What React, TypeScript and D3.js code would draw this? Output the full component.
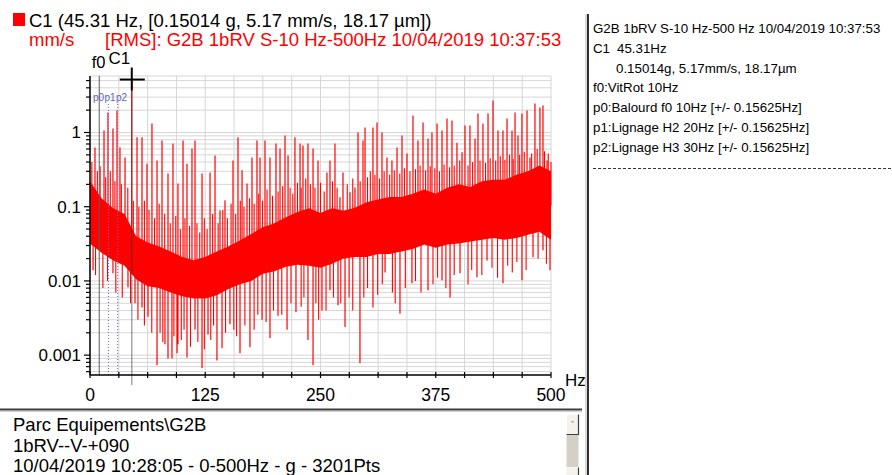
import React from 'react';
import * as d3 from 'd3';

const FONT = '"Liberation Sans", Arial, sans-serif';
const RED = '#ff0000';

// dense part of the spectrum (envelope), mm/s
const BAND_HZ = [
  0, 12.5, 25, 37.5, 50, 62.5, 75, 87.5, 100, 112.5, 125, 137.5, 150, 162.5, 175, 187.5, 200,
  212.5, 225, 237.5, 250, 262.5, 275, 287.5, 300, 312.5, 325, 337.5, 350, 362.5, 375, 387.5, 400,
  412.5, 425, 437.5, 450, 462.5, 475, 487.5, 500,
];
const BAND_TOP = [
  0.22, 0.13, 0.095, 0.08, 0.04, 0.033, 0.029, 0.025, 0.021, 0.019, 0.021, 0.025, 0.029, 0.035, 0.043,
  0.053, 0.06, 0.072, 0.085, 0.095, 0.082, 0.095, 0.088, 0.097, 0.115, 0.125, 0.135, 0.135, 0.15, 0.17,
  0.15, 0.18, 0.2, 0.185, 0.22, 0.23, 0.23, 0.27, 0.3, 0.36, 0.3,
];
const BAND_BOTTOM = [
  0.032, 0.024, 0.019, 0.016, 0.0105, 0.0085, 0.008, 0.007, 0.0062, 0.0058, 0.0058, 0.0064, 0.0078,
  0.009, 0.01, 0.0125, 0.0135, 0.0155, 0.0165, 0.016, 0.015, 0.017, 0.02, 0.021, 0.021, 0.023, 0.023,
  0.025, 0.027, 0.031, 0.028, 0.031, 0.032, 0.034, 0.036, 0.038, 0.036, 0.038, 0.042, 0.046, 0.036,
];

// tall lines rising above the band [Hz, mm/s]
const PEAKS: [number, number][] = [
  [5.4, 0.63], [15.2, 1.06], [19.5, 1.86], [24.9, 1.13], [29.3, 1.98], [32.5, 0.63], [38, 0.46],
  [45.31, 5.17], [51, 0.86], [56.4, 0.86], [61.8, 0.38], [67.2, 1.32], [72.7, 0.42], [78.1, 0.78],
  [84.6, 0.28], [90, 0.71], [95.4, 0.206], [100.9, 0.78], [105.2, 0.38], [110.6, 0.61],
  [113.9, 0.78], [121.5, 0.28], [130.2, 0.29], [135.6, 0.49], [141, 0.089], [146.4, 0.122],
  [155.1, 0.42], [160.5, 0.86], [164.9, 0.31], [170.3, 0.206], [175.7, 0.46], [181.1, 0.78],
  [184.4, 0.46], [189.8, 0.78], [195.2, 0.46], [201.7, 0.71], [206.1, 0.61], [211.5, 0.91],
  [214.8, 0.49], [222.3, 0.86], [227.8, 0.71], [231, 0.67], [236.4, 0.71], [241.9, 0.61],
  [247.3, 0.42], [257, 0.29], [260.3, 0.42], [265.7, 0.71], [271.1, 0.134], [274.4, 0.29],
  [282, 0.156], [287.4, 0.182], [290.7, 1.0], [296.1, 0.78], [298.3, 1.17], [306.9, 1.17],
  [311.3, 1.36], [316.7, 1.0], [322.1, 0.46], [327.5, 0.42], [333, 0.63], [338.4, 0.91],
  [343.8, 0.52], [350.3, 1.69], [355.7, 0.78], [361.2, 1.36], [366.6, 0.83], [370.9, 1.0],
  [376.4, 1.32], [381.8, 1.06], [387.2, 1.54], [392.6, 1.45], [398, 0.73], [403.5, 0.54],
  [406.7, 1.24], [412.1, 1.24], [417.6, 0.83], [420.8, 1.8], [426.2, 1.32], [431.7, 1.8],
  [437.1, 2.7], [442.5, 1.06], [447.9, 1.06], [452.3, 1.54], [457.7, 1.06], [461, 1.86],
  [464.2, 0.91], [468.5, 1.8], [474, 1.98], [477.2, 0.46], [482.6, 2.46], [488, 2.17],
  [491.3, 2.31], [495.7, 0.42], [498.9, 0.182],
];

// shorter lines just above the band
const MID_PEAKS: [number, number][] = [
  [2, 0.4], [8, 0.3], [11, 0.35], [17, 0.25], [22, 0.3], [27, 0.22], [34, 0.2], [41, 0.18],
  [47, 0.12], [53, 0.1], [59, 0.12], [64, 0.09], [70, 0.07], [75, 0.11], [81, 0.08], [87, 0.06],
  [93, 0.075], [98, 0.05], [103, 0.07], [108, 0.055], [116, 0.06], [119, 0.045], [124, 0.07],
  [127, 0.05], [133, 0.08], [139, 0.06], [144, 0.09], [149, 0.07], [153, 0.11], [158, 0.08],
  [163, 0.12], [167, 0.1], [173, 0.13], [178, 0.11], [183, 0.15], [187, 0.12], [192, 0.17],
  [198, 0.14], [204, 0.16], [209, 0.19], [217, 0.18], [220, 0.15], [225, 0.21], [229, 0.18],
  [234, 0.24], [239, 0.2], [244, 0.18], [250, 0.21], [254, 0.16], [263, 0.22], [268, 0.18],
  [279, 0.2], [285, 0.24], [293, 0.22], [301, 0.25], [304, 0.3], [309, 0.27], [314, 0.24],
  [319, 0.3], [325, 0.27], [330, 0.31], [336, 0.28], [341, 0.33], [347, 0.3], [353, 0.32],
  [358, 0.36], [364, 0.31], [369, 0.35], [374, 0.33], [379, 0.3], [384, 0.37], [390, 0.34],
  [395, 0.36], [401, 0.42], [410, 0.36], [415, 0.4], [423, 0.42], [429, 0.39], [434, 0.45],
  [440, 0.42], [445, 0.48], [450, 0.43], [455, 0.5], [459, 0.44], [466, 0.5], [471, 0.55],
  [479, 0.52], [485, 0.6], [493, 0.56], [497, 0.52], [500, 0.4],
];

// lines dropping below the band
const DIPS: [number, number][] = [
  [3.3, 0.0139], [24.9, 0.0127], [41.2, 0.0082], [48.8, 0.005], [56.4, 0.0044], [62.9, 0.0033],
  [72.7, 0.00073], [81.3, 0.0014], [84.6, 0.0009], [88.9, 0.0009], [94.4, 0.00106],
  [95.4, 0.0014], [105.2, 0.00093], [113.9, 0.0022], [121.5, 0.00067], [128, 0.0019],
  [137.7, 0.00085], [143.2, 0.00124], [151.8, 0.0026], [162.7, 0.00106], [173.5, 0.00128],
  [186.6, 0.003], [195.2, 0.0017], [203.9, 0.0034], [213.7, 0.0022], [223.4, 0.0038],
  [236.4, 0.0016], [241.9, 0.00073], [251.6, 0.004], [260.3, 0.0075], [269, 0.0047],
  [276.6, 0.0024], [292.8, 0.00078], [306.9, 0.0044], [320, 0.013], [336.2, 0.0036],
  [349.2, 0.0093], [366.6, 0.0075], [381.8, 0.0102], [390.5, 0.006], [401.3, 0.0127],
  [419.7, 0.0112], [430.6, 0.0189], [447.9, 0.0093], [468.5, 0.0102], [480.5, 0.0208],
  [491.3, 0.026], [498.9, 0.0139],
];

// shorter lines just below the band
const MID_DIPS: [number, number][] = [
  [6, 0.012], [14, 0.008], [19, 0.01], [28, 0.007], [35, 0.006], [44, 0.005], [52, 0.003],
  [59, 0.0025], [67, 0.002], [76, 0.002], [79, 0.0015], [91, 0.0018], [99, 0.0016], [102, 0.0022],
  [109, 0.0013], [117, 0.0015], [124, 0.0012], [131, 0.0016], [134, 0.0025], [147, 0.002],
  [156, 0.0022], [159, 0.0018], [168, 0.0025], [178, 0.0022], [182, 0.0035], [191, 0.0028],
  [199, 0.004], [208, 0.0035], [218, 0.005], [229, 0.0045], [232, 0.006], [245, 0.005],
  [248, 0.003], [256, 0.004], [264, 0.006], [272, 0.005], [281, 0.006], [285, 0.004],
  [297, 0.006], [301, 0.008], [312, 0.0065], [317, 0.009], [328, 0.007], [331, 0.005],
  [342, 0.008], [353, 0.01], [359, 0.007], [372, 0.009], [377, 0.011], [386, 0.008],
  [395, 0.012], [410, 0.009], [414, 0.014], [425, 0.012], [436, 0.015], [442, 0.011],
  [453, 0.016], [458, 0.013], [463, 0.018], [473, 0.014], [486, 0.02], [495, 0.017],
];

const Y_LABELS = [1, 0.1, 0.01, 0.001];
const X_LABELS = [0, 125, 250, 375, 500];

const F0_HZ = 10;
const MARKERS = [
  { name: 'p0', hz: 10, dx: -6.2 },
  { name: 'p1', hz: 20, dx: -3.9 },
  { name: 'p2', hz: 30, dx: -1.7 },
];
const CURSOR = { hz: 45.31, value: 5.17 };

const INFO_LINES = [
  'G2B 1bRV S-10 Hz-500 Hz 10/04/2019 10:37:53',
  'C1',
  '0.15014g, 5.17mm/s, 18.17µm',
  'f0:VitRot 10Hz',
  'p0:Balourd f0 10Hz [+/- 0.15625Hz]',
  'p1:Lignage H2 20Hz [+/- 0.15625Hz]',
  'p2:Lignage H3 30Hz [+/- 0.15625Hz]',
];
const FOOTER_LINES = [
  'Parc Equipements\\G2B',
  '1bRV--V-+090',
  '10/04/2019 10:28:05 - 0-500Hz - g - 3201Pts',
];

export default function App() {
  const W = 892;
  const H = 475;
  const left = 90, right = 551, top = 76, bottom = 375;

  const x = d3.scaleLinear().domain([0, 500]).range([left, right]);
  const y = d3.scaleLog().domain([0.00054, 5.77]).range([bottom, top]);

  const band = d3
    .area<number>()
    .x((_, i) => x(BAND_HZ[i]))
    .y0((_, i) => y(BAND_BOTTOM[i]))
    .y1((_, i) => y(BAND_TOP[i]));

  // spikes start from the middle of the band
  const mid = d3
    .scaleLinear()
    .domain(BAND_HZ)
    .range(BAND_HZ.map((_, i) => Math.sqrt(BAND_TOP[i] * BAND_BOTTOM[i])));

  const spikes = (list: [number, number][]) =>
    list.map(([hz, v]) => `M${x(hz)},${y(mid(hz))}V${y(v)}`).join('');

  const yGrid = y.ticks();
  const xGrid = d3.range(0, 500.01, 31.25);

  const cx = x(CURSOR.hz);
  const cy = y(CURSOR.value);

  return (
    <svg
      width={W}
      height={H}
      style={{ position: 'fixed', left: 0, top: 0, background: '#fff' }}
      fontFamily={FONT}
    >
      {/* header */}
      <rect x={13} y={13} width={12} height={13} fill={RED} />
      <text x={29} y={27} fontSize={18.5} fill="#000">
        C1 (45.31 Hz, [0.15014 g, 5.17 mm/s, 18.17 µm])
      </text>
      <text x={29} y={46} fontSize={18.5} fill={RED}>mm/s</text>
      <text x={105} y={46} fontSize={18.5} fill={RED}>
        [RMS]: G2B 1bRV S-10 Hz-500Hz 10/04/2019 10:37:53
      </text>

      {/* grid */}
      <g stroke="#d6d6d6" strokeWidth={1}>
        {yGrid.map((t, i) => (
          <line key={'h' + i} x1={left} x2={right} y1={y(t)} y2={y(t)} />
        ))}
        <line x1={left} x2={right} y1={top} y2={top} />
        {xGrid.map((t, i) => (
          <line key={'v' + i} x1={x(t)} x2={x(t)} y1={top} y2={bottom} />
        ))}
      </g>

      {/* spectrum */}
      <path d={band(BAND_HZ) ?? ''} fill={RED} />
      <path d={spikes(MID_PEAKS) + spikes(MID_DIPS)} stroke={RED} strokeWidth={1.1} fill="none" />
      <path d={spikes(PEAKS) + spikes(DIPS)} stroke={RED} strokeWidth={1.2} fill="none" />

      {/* markers */}
      <line x1={x(F0_HZ)} x2={x(F0_HZ)} y1={top} y2={bottom} stroke="#5a5a5a" strokeWidth={1} />
      {MARKERS.slice(1).map((m) => (
        <line
          key={m.name}
          x1={x(m.hz)}
          x2={x(m.hz)}
          y1={104}
          y2={bottom}
          stroke="#6a6ac8"
          strokeWidth={1}
          strokeDasharray="1,2"
        />
      ))}
      {MARKERS.map((m) => (
        <text key={m.name} x={x(m.hz) + m.dx} y={101} fontSize={10} fill="#6464b4">
          {m.name}
        </text>
      ))}
      <text x={x(F0_HZ) - 7.5} y={68} fontSize={16.5} fill="#000">f0</text>
      <line x1={cx} x2={cx} y1={cy + 11} y2={bottom + 10} stroke="#333" strokeWidth={1.3} strokeDasharray="1,1" />
      <text x={cx - 1.5} y={64} fontSize={17} fill="#000" textAnchor="end">C1</text>
      <g stroke="#000" strokeWidth={2}>
        <line x1={cx - 12} x2={cx + 13} y1={cy} y2={cy} />
        <line x1={cx} x2={cx} y1={cy - 12} y2={cy + 11} />
      </g>

      {/* y axis */}
      <line x1={left} x2={left} y1={top} y2={bottom} stroke="#000" strokeWidth={1.5} />
      {yGrid.map((t, i) => {
        const major = Y_LABELS.includes(t);
        return (
          <line key={'yt' + i} x1={left - (major ? 6 : 4)} x2={left} y1={y(t)} y2={y(t)} stroke="#000" strokeWidth={1.2} />
        );
      })}
      {Y_LABELS.map((t) => (
        <text key={t} x={81} y={y(t) + 6} fontSize={17} textAnchor="end" fill="#000">
          {String(t)}
        </text>
      ))}

      {/* x axis */}
      <line x1={left} x2={right} y1={bottom} y2={bottom} stroke="#000" strokeWidth={1.5} />
      {xGrid.map((t, i) => (
        <line key={'xt' + i} x1={x(t)} x2={x(t)} y1={bottom - 3} y2={bottom + 3} stroke="#000" strokeWidth={1.2} />
      ))}
      {X_LABELS.map((t) => (
        <text key={t} x={x(t)} y={401} fontSize={17.5} textAnchor="middle" fill="#000">
          {t}
        </text>
      ))}
      <text x={565} y={386} fontSize={17} fill="#000">Hz</text>

      {/* footer panel */}
      <line x1={0} x2={582} y1={409.5} y2={409.5} stroke="#3c3c3c" strokeWidth={2} />
      <line x1={0} x2={582} y1={411.5} y2={411.5} stroke="#d0d0d0" strokeWidth={1} />
      {FOOTER_LINES.map((s, i) => (
        <text key={i} x={13} y={431 + i * 20.5} fontSize={18.5} fill="#000">
          {s}
        </text>
      ))}
      <g>
        <rect x={566.5} y={414.5} width={12} height={20} fill="#f4f2ea" stroke="#fff" />
        <path d="M578.5,414.5V434.5H566.5" fill="none" stroke="#404040" strokeWidth={1.2} />
        <rect x={571.5} y={421} width={2} height={1.5} fill="#999" />
        <rect x={566.5} y={435} width={12} height={32} fill="#d4d0c8" />
        <rect x={566.5} y={467.5} width={12} height={10} fill="#f4f2ea" />
        <path d="M578.5,467.5V476" fill="none" stroke="#404040" strokeWidth={1.2} />
      </g>

      {/* right info panel */}
      <line x1={586} x2={586} y1={14} y2={H} stroke="#b0b0b0" strokeWidth={1} />
      <line x1={588} x2={588} y1={14} y2={H} stroke="#303030" strokeWidth={2} />
      {INFO_LINES.map((s, i) => (
        <text key={i} x={i === 2 ? 616 : 593} y={33.3 + i * 19.7} fontSize={13.3} fill="#000">
          {s}
        </text>
      ))}
      <text x={617} y={33.3 + 19.7} fontSize={13.3} fill="#000">45.31Hz</text>
      <line x1={593} x2={W} y1={168.5} y2={168.5} stroke="#333" strokeWidth={1} strokeDasharray="3,2" />
    </svg>
  );
}
